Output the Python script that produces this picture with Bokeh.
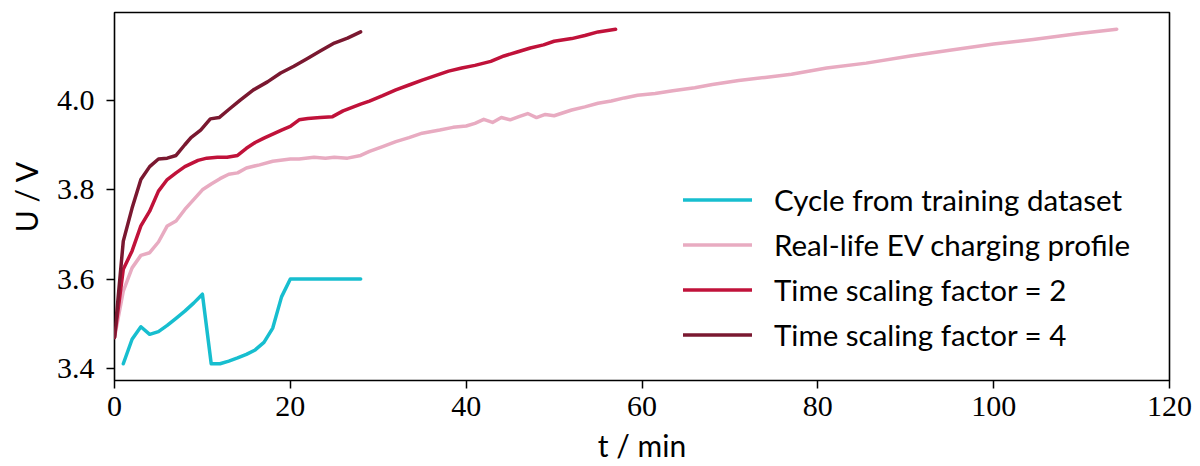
from bokeh.plotting import figure
from bokeh.models import Range1d, Legend, LegendItem, FixedTicker
from bokeh.embed import file_html
from bokeh.resources import INLINE

# ---- data ----
t_cycle = [1, 2, 3, 4, 5, 6, 7, 8, 9, 10, 11, 12, 13, 14, 15, 16, 17, 18, 19, 20,
           21, 22, 23, 24, 25, 26, 27, 28]
u_cycle = [3.41, 3.465, 3.493, 3.476, 3.482, 3.496, 3.512, 3.528, 3.546, 3.566,
           3.41, 3.41, 3.416, 3.423, 3.431, 3.441, 3.458, 3.49, 3.56, 3.60,
           3.60, 3.60, 3.60, 3.60, 3.60, 3.60, 3.60, 3.60]

t_ev = [0, 1, 2, 3, 4, 5, 6, 7, 8, 9, 10, 11, 12, 13, 14, 15,
        16.5, 18, 20, 21, 22.7, 24, 25, 26.5, 28, 29,
        30.5, 32, 33.5, 35, 37, 38.5, 40, 41, 42, 43,
        44, 45, 46, 47, 48, 49, 50, 52, 53.5, 55,
        56.5, 58, 59.5, 61.5, 63.5, 66, 68, 71, 74, 77,
        81, 85.5, 90.5, 95, 100, 104.5, 109.5, 114]
u_ev = [3.469, 3.573, 3.625, 3.653, 3.659, 3.683, 3.719, 3.73, 3.756, 3.778, 3.800, 3.813, 3.825, 3.835, 3.838, 3.849,
        3.856, 3.864, 3.869, 3.869, 3.873, 3.871, 3.873, 3.871, 3.877, 3.886,
        3.897, 3.908, 3.917, 3.927, 3.934, 3.940, 3.943, 3.949, 3.958, 3.951,
        3.962, 3.957, 3.964, 3.971, 3.962, 3.969, 3.966, 3.979, 3.986, 3.994,
        3.999, 4.006, 4.012, 4.016, 4.022, 4.029, 4.036, 4.045, 4.052, 4.059,
        4.073, 4.084, 4.100, 4.113, 4.127, 4.137, 4.150, 4.160]

t_f2 = [0, 1, 2, 3, 4, 5, 6, 7, 8, 9.5, 10.5, 11.7, 12.8, 14, 15, 16, 17, 18, 19, 20,
        21, 22, 23.4, 24.8, 26, 28, 29, 30.5, 32, 33.5, 35, 36.5, 38, 39.5, 41, 42.8,
        44.3, 45.8, 47.3, 48.8, 50, 52, 53.5, 55, 57]
u_f2 = [3.469, 3.622, 3.663, 3.719, 3.752, 3.797, 3.823, 3.838, 3.852, 3.866,
        3.871, 3.873, 3.873, 3.877, 3.893, 3.906, 3.916, 3.925, 3.934, 3.942,
        3.957, 3.960, 3.962, 3.964, 3.977, 3.992, 3.999, 4.011, 4.024, 4.035,
        4.046, 4.056, 4.066, 4.073, 4.079, 4.088, 4.100, 4.109, 4.118, 4.125,
        4.133, 4.139, 4.146, 4.154, 4.160]

t_f4 = [0, 1, 2, 3, 4, 5, 6, 7, 8, 8.7, 9.8, 10.9, 11.9, 13, 14.3, 15.8, 17.4, 18.9,
        20.4, 21.9, 23.4, 25, 26.5, 28]
u_f4 = [3.469, 3.685, 3.759, 3.823, 3.852, 3.869, 3.871, 3.877, 3.901, 3.917, 3.934,
        3.959, 3.962, 3.980, 4.001, 4.024, 4.042, 4.062, 4.077, 4.094, 4.111, 4.129,
        4.140, 4.154]

labels = ["Cycle from training dataset", "Real-life EV charging profile",
          "Time scaling factor = 2", "Time scaling factor = 4"]
x_ticks = [0, 20, 40, 60, 80, 100, 120]
y_ticks = [3.4, 3.6, 3.8, 4.0]
x_label = "t / min"
y_label = "U / V"

colors = ["#17becf", "#e8abc1", "#c0123a", "#7a1830"]

SERIF = "Liberation Serif"
SANS = "Lato"

p = figure(width=1200, height=466, output_backend="svg", toolbar_location=None,
           x_range=Range1d(0, 120), y_range=Range1d(3.3725, 4.1975),
           min_border_left=114, min_border_right=31, min_border_top=12,
           min_border_bottom=86)
p.grid.visible = False
p.outline_line_color = "black"
p.outline_line_width = 1.6
p.background_fill_color = "white"
p.border_fill_color = "white"

for ax in (p.xaxis[0], p.yaxis[0]):
    ax.axis_line_color = None
    ax.major_tick_line_color = "black"
    ax.major_tick_line_width = 1.5
    ax.major_tick_out = 8
    ax.major_tick_in = 0
    ax.minor_tick_line_color = None
    ax.major_label_text_font = SERIF
    ax.major_label_text_font_size = "30px"
    ax.major_label_text_color = "black"
    ax.axis_label_text_font = SANS
    ax.axis_label_text_font_style = "normal"
    ax.axis_label_text_font_size = "30px"
    ax.axis_label_text_color = "black"

p.xaxis.major_label_standoff = 8
p.yaxis.major_label_standoff = 12
p.xaxis.axis_label = x_label
p.yaxis.axis_label = y_label
p.xaxis.axis_label_standoff = 8
p.yaxis.axis_label_standoff = 10

p.xaxis.ticker = FixedTicker(ticks=x_ticks)
p.yaxis.ticker = FixedTicker(ticks=y_ticks)
p.xaxis.major_label_overrides = {v: str(v) for v in x_ticks}
p.yaxis.major_label_overrides = {v: f"{v:.1f}" for v in y_ticks}

series = [(t_cycle, u_cycle), (t_ev, u_ev), (t_f2, u_f2), (t_f4, u_f4)]
rends = []
for (tx, uy), c in zip(series, colors):
    r = p.line(tx, uy, line_color=c, line_width=3.5, line_join="round", line_cap="round")
    rends.append(r)

legend = Legend(items=[LegendItem(label=l, renderers=[r]) for l, r in zip(labels, rends)],
                location=(569, 23), orientation="vertical",
                glyph_width=69, glyph_height=45, label_height=45, spacing=0,
                label_standoff=22, padding=0, margin=0,
                border_line_color=None, background_fill_alpha=0,
                label_text_font=SANS, label_text_font_size="29.5px",
                label_text_color="black")
p.add_layout(legend, "center")

open("out.html", "w").write(file_html(p, INLINE))
